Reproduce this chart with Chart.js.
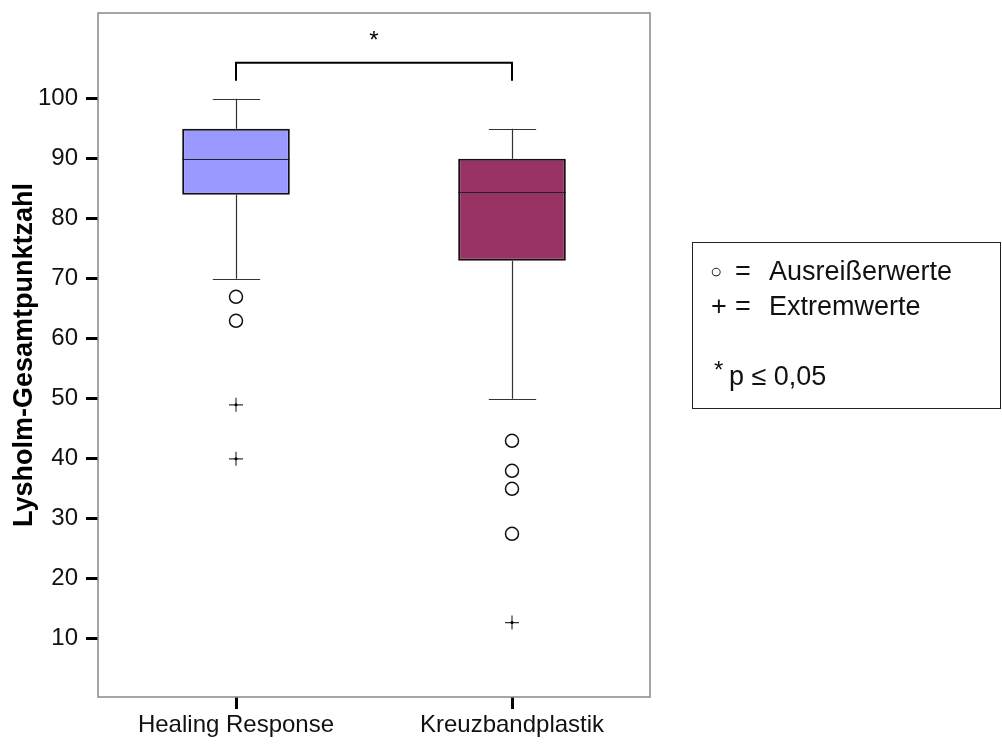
<!DOCTYPE html>
<html>
<head>
<meta charset="utf-8">
<script src="https://cdn.jsdelivr.net/npm/chart.js@4/dist/chart.umd.min.js"></script>
<style>
  html, body { margin: 0; padding: 0; background: #fff; }
  #wrap { position: relative; width: 1002px; height: 744px; }
  #legendBox {
    position: absolute; left: 692px; top: 242px; width: 309px; height: 167px;
    border: 1.5px solid #222; box-sizing: border-box;
    font-family: "Liberation Sans", Arial, sans-serif; font-size: 27px; color: #111;
  }
  #legendBox span { position: absolute; line-height: 30px; white-space: pre; }
  #legendBox .sym { font-size: 20px; }
</style>
</head>
<body>
<div id="wrap">
  <canvas id="boxChart" width="1002" height="744"></canvas>
  <div id="legendBox">
    <span class="sym" style="left:17px;top:13px">○</span>
    <span style="left:42px;top:13px">=</span>
    <span style="left:76px;top:13px">Ausreißerwerte</span>
    <span style="left:18px;top:48px">+</span>
    <span style="left:42px;top:48px">=</span>
    <span style="left:76px;top:48px">Extremwerte</span>
    <span style="left:21px;top:112px;font-size:24px">*</span>
    <span style="left:36px;top:118px">p ≤ 0,05</span>
  </div>
</div>
<script>
// Kategorien und Kennwerte der Boxplots
const categories = ['Healing Response', 'Kreuzbandplastik'];
const whiskerLow = [70, 50];
const q1 = [84, 73];
const median = [90, 84.5];
const q3 = [95, 90];
const whiskerHigh = [100, 95];
const outliers = [[67, 63], [43, 38, 35, 27.5]];
const extremes = [[49, 40], [12.7]];
const boxColors = ['#9999ff', '#993366'];
const yTicks = [10, 20, 30, 40, 50, 60, 70, 80, 90, 100];

// Signifikanz-Klammer
const bracketLow = 103;
const bracketHigh = 106;
const starValue = 109.5;

const fontFamily = '"Liberation Sans", Arial, sans-serif';

function toPoints(groups) {
    const pts = [];
    groups.forEach((vals, i) => {
        vals.forEach(v => pts.push({ x: categories[i], y: v }));
    });
    return pts;
}

// Whisker, Median, Rahmen und Klammer
const boxExtras = {
    id: 'boxExtras',
    beforeDatasetsDraw(chart) {
        const { ctx, scales: { x, y } } = chart;
        const meta = chart.getDatasetMeta(0);
        ctx.save();
        ctx.strokeStyle = '#333';
        ctx.lineWidth = 1.2;
        categories.forEach((c, i) => {
            const cx = Math.round(x.getPixelForValue(i)) + 0.5;
            const capHalf = meta.data[i].width * 0.22;
            ctx.beginPath();
            ctx.moveTo(cx, y.getPixelForValue(q3[i]));
            ctx.lineTo(cx, y.getPixelForValue(whiskerHigh[i]));
            ctx.moveTo(cx, y.getPixelForValue(q1[i]));
            ctx.lineTo(cx, y.getPixelForValue(whiskerLow[i]));
            [whiskerHigh[i], whiskerLow[i]].forEach(v => {
                const py = Math.round(y.getPixelForValue(v)) + 0.5;
                ctx.moveTo(cx - capHalf, py);
                ctx.lineTo(cx + capHalf, py);
            });
            ctx.stroke();
        });
        ctx.restore();
    },
    afterDatasetsDraw(chart) {
        const { ctx, scales: { x, y }, chartArea } = chart;
        const meta = chart.getDatasetMeta(0);
        ctx.save();
        // Median
        ctx.strokeStyle = '#222';
        ctx.lineWidth = 1.2;
        categories.forEach((c, i) => {
            const bar = meta.data[i];
            const py = Math.round(y.getPixelForValue(median[i])) + 0.5;
            ctx.beginPath();
            ctx.moveTo(bar.x - bar.width / 2, py);
            ctx.lineTo(bar.x + bar.width / 2, py);
            ctx.stroke();
        });
        // Rahmen
        ctx.strokeStyle = '#888';
        ctx.lineWidth = 1.5;
        ctx.strokeRect(chartArea.left, chartArea.top, chartArea.right - chartArea.left, chartArea.bottom - chartArea.top);
        // Klammer
        const x1 = x.getPixelForValue(0);
        const x2 = x.getPixelForValue(1);
        const yb = y.getPixelForValue(bracketHigh);
        const yl = y.getPixelForValue(bracketLow);
        ctx.strokeStyle = '#000';
        ctx.lineWidth = 2;
        ctx.beginPath();
        ctx.moveTo(x1, yl);
        ctx.lineTo(x1, yb);
        ctx.lineTo(x2, yb);
        ctx.lineTo(x2, yl);
        ctx.stroke();
        ctx.fillStyle = '#000';
        ctx.font = '24px ' + fontFamily;
        ctx.textAlign = 'center';
        ctx.textBaseline = 'middle';
        ctx.fillText('*', (x1 + x2) / 2, y.getPixelForValue(starValue));
        ctx.restore();
    }
};

new Chart(document.getElementById('boxChart'), {
    type: 'bar',
    data: {
        labels: categories,
        datasets: [{
            label: 'Box',
            data: q1.map((v, i) => [v, q3[i]]),
            backgroundColor: boxColors,
            borderColor: '#111',
            borderWidth: 2,
            borderSkipped: false,
            categoryPercentage: 1,
            barPercentage: 0.39,
            order: 2
        }, {
            type: 'scatter',
            label: 'Ausreißerwerte',
            data: toPoints(outliers),
            pointStyle: 'circle',
            radius: 6.5,
            backgroundColor: '#fff',
            borderColor: '#111',
            borderWidth: 1.5,
            order: 1
        }, {
            type: 'scatter',
            label: 'Extremwerte',
            data: toPoints(extremes),
            pointStyle: 'cross',
            radius: 7,
            borderColor: '#333',
            borderWidth: 1.2,
            order: 1
        }, {
            type: 'scatter',
            label: 'Extremwerte Punkt',
            data: toPoints(extremes),
            pointStyle: 'circle',
            radius: 1.5,
            backgroundColor: '#000',
            borderWidth: 0,
            order: 0
        }]
    },
    options: {
        responsive: false,
        animation: false,
        layout: { padding: { top: 13, right: 352, left: 0, bottom: 0 } },
        plugins: {
            legend: { display: false },
            tooltip: { enabled: false }
        },
        scales: {
            x: {
                type: 'category',
                offset: true,
                afterFit(scale) {
                    scale.height = 47;
                    scale.paddingLeft = 0;
                    scale.paddingRight = 0;
                },
                grid: {
                    offset: false,
                    drawOnChartArea: false,
                    drawTicks: true,
                    tickLength: 12,
                    tickWidth: 3,
                    tickColor: '#000'
                },
                border: { display: false },
                ticks: {
                    color: '#111',
                    padding: 2,
                    font: { family: fontFamily, size: 24 }
                }
            },
            y: {
                min: 0.3,
                max: 114.3,
                afterFit(scale) {
                    scale.width = 98;
                    scale.paddingTop = 0;
                    scale.paddingBottom = 0;
                },
                afterBuildTicks(axis) { axis.ticks = yTicks.map(v => ({ value: v })); },
                grid: {
                    drawOnChartArea: false,
                    drawTicks: true,
                    tickLength: 12,
                    tickWidth: 3,
                    tickColor: '#000'
                },
                border: { display: false },
                ticks: {
                    color: '#111',
                    padding: 8,
                    font: { family: fontFamily, size: 24 }
                },
                title: {
                    display: true,
                    text: 'Lysholm-Gesamtpunktzahl',
                    color: '#000',
                    padding: { top: 8, bottom: 0 },
                    font: { family: fontFamily, size: 27, weight: 'bold' }
                }
            }
        }
    },
    plugins: [boxExtras]
});
</script>
</body>
</html>
